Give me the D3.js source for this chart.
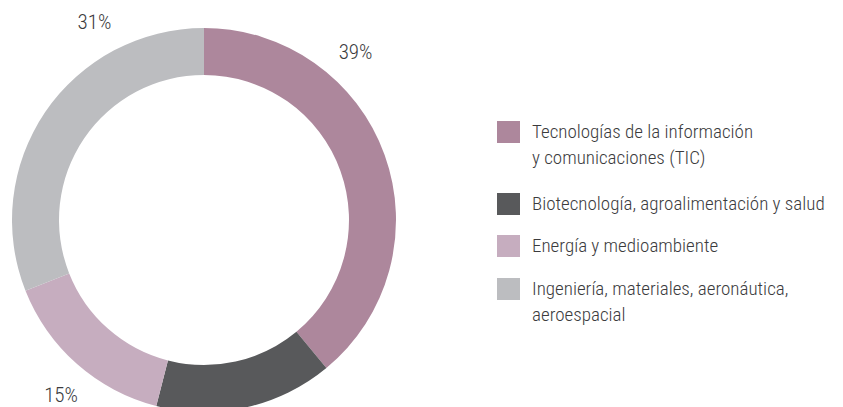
<!DOCTYPE html>
<html>
<head>
<meta charset="utf-8">
<script src="https://cdn.jsdelivr.net/npm/d3@7"></script>
<style>
  html, body { margin: 0; padding: 0; background: #ffffff; }
  svg { display: block; }
  text { font-family: "Liberation Sans Narrow", "Roboto Condensed", "Liberation Sans", Arial, sans-serif; fill: #3b3b3d; font-weight: 300; }
</style>
</head>
<body>
<svg id="chart" width="843" height="407"></svg>
<script>
const categories = [
  "Tecnologías de la información y comunicaciones (TIC)",
  "Biotecnología, agroalimentación y salud",
  "Energía y medioambiente",
  "Ingeniería, materiales, aeronáutica, aeroespacial"
];
const legendLines = [
  ["Tecnologías de la información", "y comunicaciones (TIC)"],
  ["Biotecnología, agroalimentación y salud"],
  ["Energía y medioambiente"],
  ["Ingeniería, materiales, aeronáutica,", "aeroespacial"]
];
const values = [39, 15, 15, 31];
const valueLabels = ["39%", null, "15%", "31%"];
const colors = ["#ad879c", "#58595b", "#c6adbf", "#bcbdc0"];

const svg = d3.select("#chart");
const cx = 204, cy = 220, outerR = 192, innerR = 145;

const pie = d3.pie().sort(null).value(d => d);
const arcs = pie(values);
const arc = d3.arc().innerRadius(innerR).outerRadius(outerR);
const color = d3.scaleOrdinal().domain(d3.range(values.length)).range(colors);

const g = svg.append("g").attr("transform", `translate(${cx},${cy})`);
g.selectAll("path.slice")
  .data(arcs)
  .enter().append("path")
  .attr("class", "slice")
  .attr("d", arc)
  .attr("fill", (d, i) => color(i));

// percentage labels outside the ring; angle as fraction along each slice
const labelFrac = [0.30, 0.5, 0.46, 0.74];
const labelR = 226;
const labelAngle = d => d.startAngle + labelFrac[d.index] * (d.endAngle - d.startAngle);
g.selectAll("text.pct")
  .data(arcs.filter((d, i) => valueLabels[i] !== null))
  .enter().append("text")
  .attr("class", "pct")
  .attr("text-anchor", "middle")
  .attr("font-size", 21)
  .attr("x", d => Math.sin(labelAngle(d)) * labelR)
  .attr("y", d => -Math.cos(labelAngle(d)) * labelR + 7)
  .text(d => valueLabels[d.index]);

// legend
const legend = svg.append("g").attr("transform", "translate(497,121)");
const rowY = [0, 72, 114, 157];
const items = legend.selectAll("g.item")
  .data(categories)
  .enter().append("g")
  .attr("class", "item")
  .attr("transform", (d, i) => `translate(0,${rowY[i]})`);
items.append("rect")
  .attr("width", 23).attr("height", 22)
  .attr("fill", (d, i) => color(i));
items.each(function(d, i) {
  const t = d3.select(this).append("text")
    .attr("x", 35).attr("y", 17)
    .attr("font-size", 19);
  legendLines[i].forEach((line, j) => {
    t.append("tspan").attr("x", 35).attr("dy", j === 0 ? 0 : 26).text(line);
  });
});
</script>
</body>
</html>
